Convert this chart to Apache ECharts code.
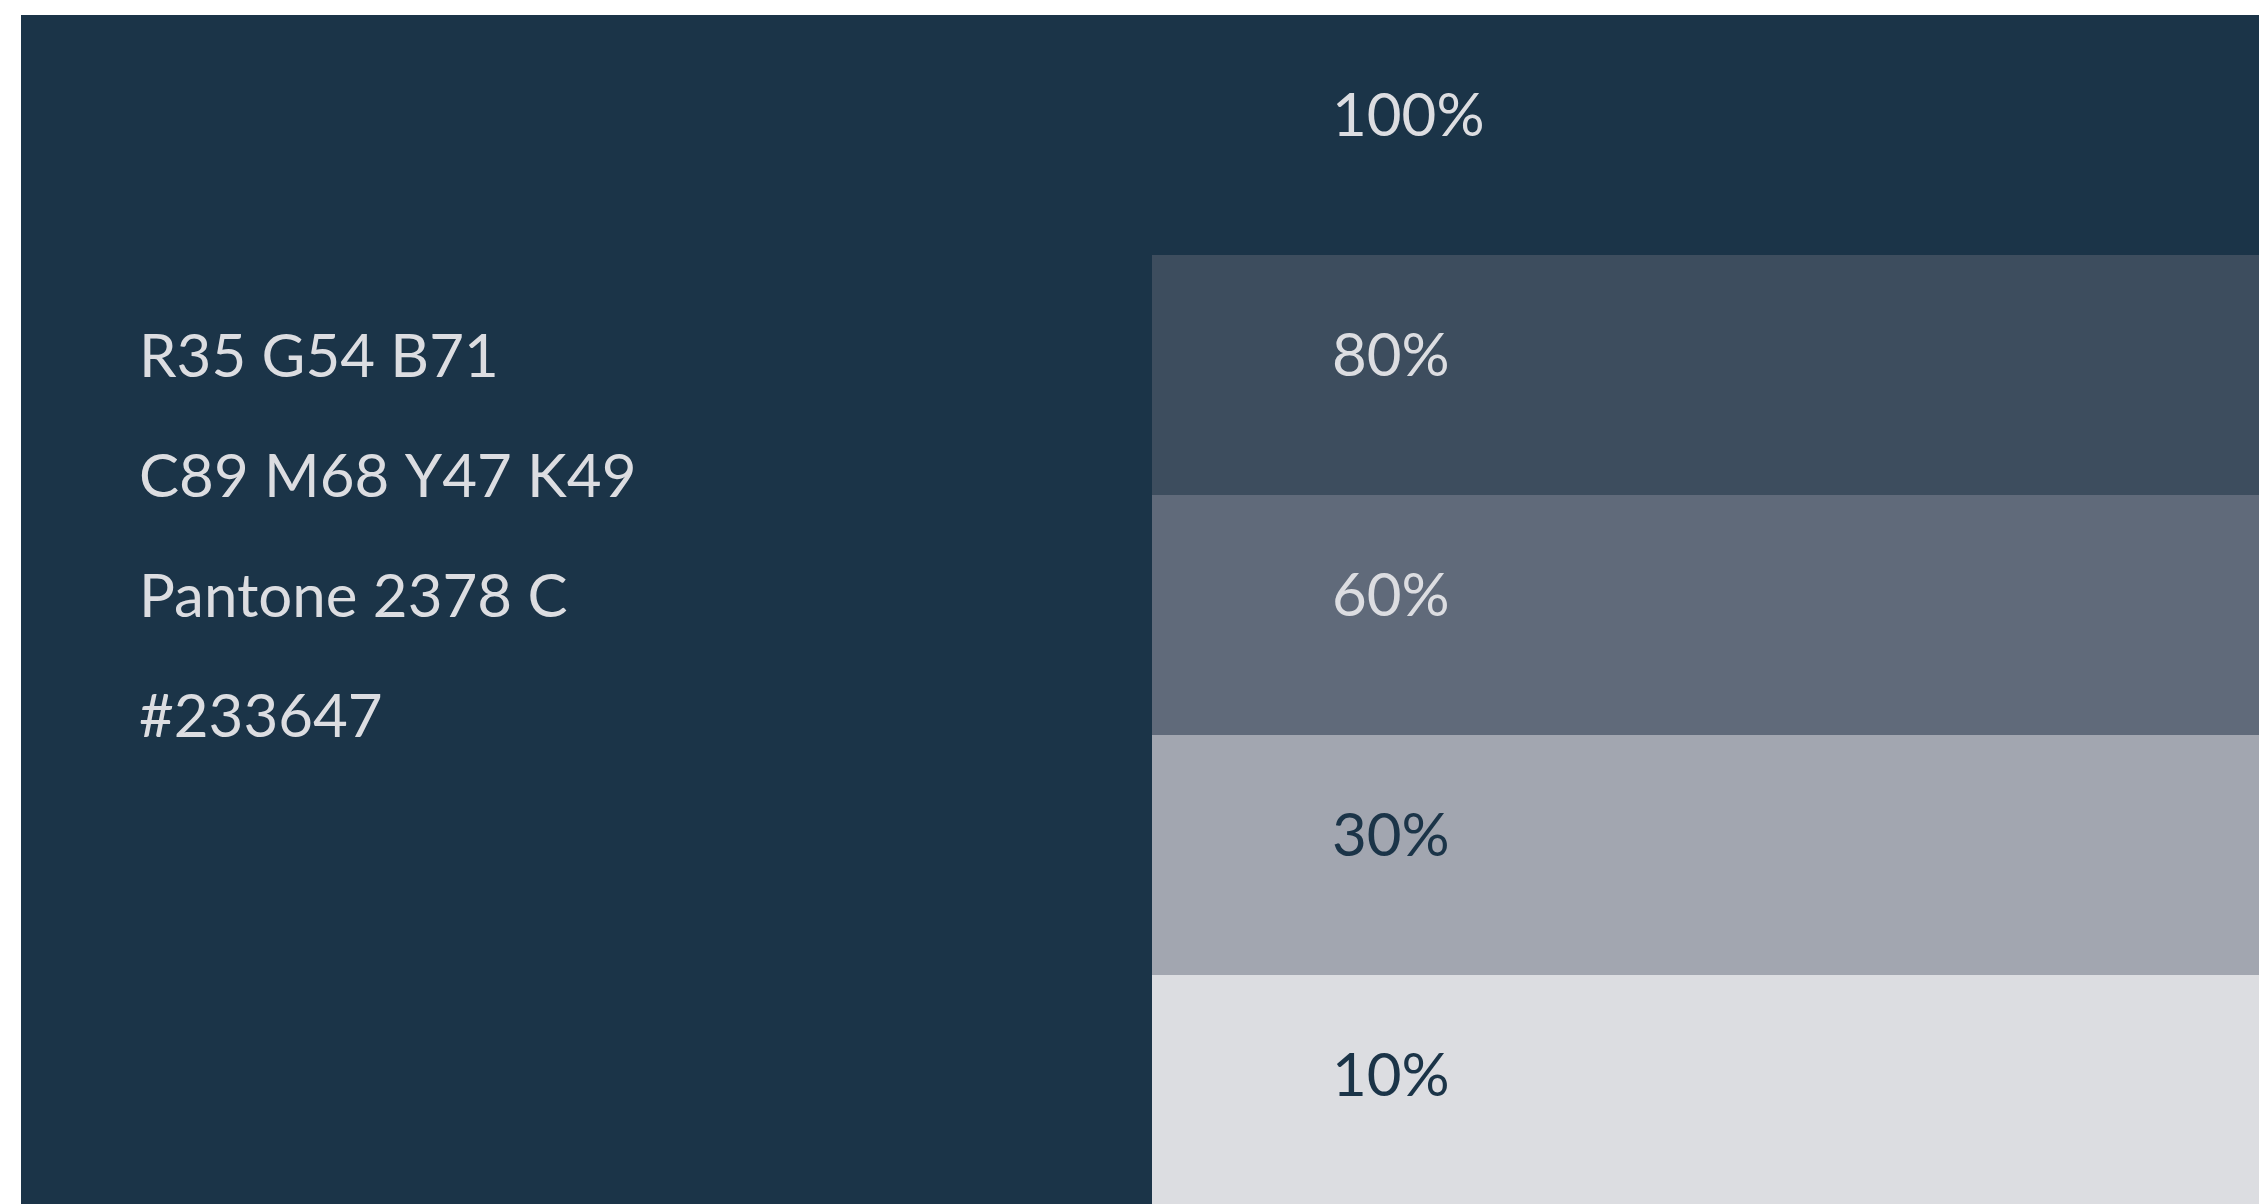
<!DOCTYPE html>
<html>
<head>
<meta charset="utf-8">
<script src="https://cdn.jsdelivr.net/npm/echarts@6/dist/echarts.min.js"></script>
<style>
html,body{margin:0;padding:0;background:#ffffff;overflow:hidden;}
#chart{width:2259px;height:1215px;}
</style>
</head>
<body>
<div id="chart"></div>
<script>
// Tint levels of the brand colour
const tints = ['100%', '80%', '60%', '30%', '10%'];
const swatchValues = [1, 1, 1, 1, 1];
const swatchColors = ['#1b3448', '#3d4d5e', '#606a7a', '#a2a6b0', '#dcdde1'];
const labelColors = ['#dcdde1', '#dcdde1', '#dcdde1', '#1b3448', '#1b3448'];
// Colour specification lines
const infoLines = ['R35 G54 B71', 'C89 M68 Y47 K49', 'Pantone 2378 C', '#233647'];

const FONT = 'Lato, "Noto Sans", sans-serif';
const chart = echarts.init(document.getElementById('chart'));

const graphics = [{
  type: 'rect',
  z: 0,
  shape: { x: 21, y: 15, width: 2238, height: 1200 },
  style: { fill: '#1b3448' },
  silent: true
}];
infoLines.forEach((t, i) => {
  graphics.push({
    type: 'text',
    z: 10,
    x: 139,
    y: 358 + i * 120,
    style: {
      text: t,
      fill: '#dcdde1',
      font: '400 60px ' + FONT,
      textAlign: 'left',
      textVerticalAlign: 'middle'
    },
    silent: true
  });
});

chart.setOption({
  animation: false,
  graphic: graphics,
  grid: { left: 1152, right: 0, top: 15, bottom: 0, containLabel: false },
  xAxis: { type: 'value', min: 0, max: 1, show: false },
  yAxis: { type: 'category', data: tints, inverse: true, show: false },
  series: [{
    type: 'bar',
    barCategoryGap: '0%',
    barWidth: '100%',
    z: 5,
    data: swatchValues.map((v, i) => ({
      value: v,
      itemStyle: { color: swatchColors[i] },
      label: { color: labelColors[i] }
    })),
    label: {
      show: true,
      formatter: p => tints[p.dataIndex],
      position: [180, 102],
      align: 'left',
      verticalAlign: 'middle',
      fontFamily: FONT,
      fontSize: 60,
      fontWeight: 400
    }
  }]
});
</script>
</body>
</html>
